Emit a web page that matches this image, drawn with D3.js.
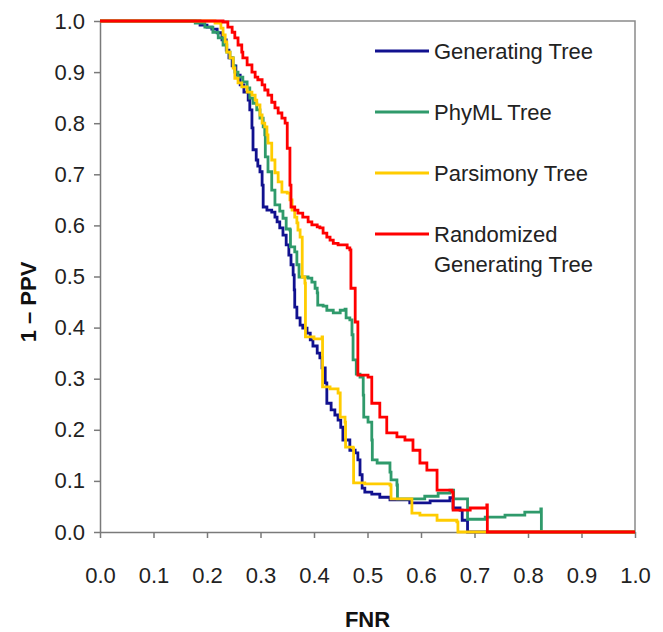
<!DOCTYPE html>
<html>
<head>
<meta charset="utf-8">
<script src="https://cdn.jsdelivr.net/npm/d3@7"></script>
<style>
  body { margin: 0; background: #fff; }
  svg { display: block; font-family: Arial, "Liberation Sans", sans-serif; }
</style>
</head>
<body>
<script>
// Curves: [FNR, 1 - PPV], drawn as steps
const generatingTree = [
  [0, 1], [0.168, 1], [0.187, 0.992], [0.2, 0.988], [0.209, 0.984], [0.219, 0.977],
  [0.228, 0.963], [0.236, 0.943], [0.241, 0.928], [0.247, 0.912], [0.254, 0.894],
  [0.262, 0.875], [0.269, 0.861], [0.277, 0.845], [0.28, 0.826], [0.284, 0.791],
  [0.286, 0.748], [0.292, 0.728], [0.295, 0.716], [0.299, 0.705], [0.303, 0.679],
  [0.305, 0.636], [0.312, 0.63], [0.321, 0.626], [0.327, 0.616], [0.331, 0.607],
  [0.336, 0.595], [0.342, 0.581], [0.348, 0.562], [0.353, 0.542], [0.357, 0.523],
  [0.361, 0.503], [0.363, 0.474], [0.364, 0.44], [0.368, 0.419], [0.374, 0.405],
  [0.379, 0.399], [0.387, 0.389], [0.393, 0.376], [0.398, 0.364], [0.406, 0.35],
  [0.411, 0.341], [0.415, 0.321], [0.421, 0.292], [0.424, 0.252], [0.432, 0.239],
  [0.439, 0.229], [0.445, 0.219], [0.45, 0.205], [0.454, 0.18], [0.467, 0.16],
  [0.477, 0.155], [0.482, 0.141], [0.486, 0.112], [0.49, 0.086], [0.495, 0.078],
  [0.508, 0.074], [0.523, 0.068], [0.542, 0.063], [0.579, 0.057], [0.617, 0.061],
  [0.654, 0.067], [0.66, 0.047], [0.673, 0.043], [0.677, 0.023], [0.686, 0.023],
  [0.687, 0], [1, 0]
];
const phymlTree = [
  [0, 1], [0.159, 1], [0.178, 0.996], [0.196, 0.988], [0.211, 0.978], [0.221, 0.967],
  [0.23, 0.953], [0.237, 0.939], [0.243, 0.928], [0.249, 0.912], [0.252, 0.9],
  [0.258, 0.89], [0.267, 0.881], [0.275, 0.869], [0.28, 0.849], [0.286, 0.839],
  [0.293, 0.826], [0.299, 0.81], [0.305, 0.793], [0.308, 0.777], [0.309, 0.734],
  [0.314, 0.705], [0.321, 0.669], [0.327, 0.64], [0.336, 0.628], [0.342, 0.614],
  [0.348, 0.593], [0.355, 0.591], [0.356, 0.558], [0.364, 0.548], [0.368, 0.523],
  [0.372, 0.499], [0.389, 0.497], [0.396, 0.489], [0.402, 0.477], [0.406, 0.468],
  [0.407, 0.444], [0.417, 0.442], [0.424, 0.434], [0.436, 0.429], [0.449, 0.434],
  [0.458, 0.436], [0.46, 0.419], [0.467, 0.415], [0.471, 0.386], [0.473, 0.337],
  [0.479, 0.309], [0.486, 0.303], [0.492, 0.268], [0.493, 0.225], [0.501, 0.215],
  [0.508, 0.18], [0.509, 0.141], [0.518, 0.135], [0.542, 0.117], [0.544, 0.102],
  [0.555, 0.092], [0.556, 0.065], [0.585, 0.065], [0.607, 0.07], [0.632, 0.076],
  [0.654, 0.082], [0.66, 0.082], [0.661, 0.065], [0.686, 0.065], [0.687, 0.025],
  [0.72, 0.029], [0.757, 0.033], [0.794, 0.039], [0.824, 0.045], [0.825, 0], [1, 0]
];
const parsimonyTree = [
  [0, 1], [0.196, 1], [0.215, 0.996], [0.226, 0.986], [0.23, 0.973], [0.234, 0.959],
  [0.237, 0.939], [0.243, 0.928], [0.249, 0.908], [0.252, 0.888], [0.258, 0.879],
  [0.265, 0.871], [0.275, 0.861], [0.284, 0.855], [0.29, 0.845], [0.293, 0.836],
  [0.299, 0.816], [0.303, 0.8], [0.308, 0.793], [0.312, 0.777], [0.314, 0.761],
  [0.321, 0.728], [0.327, 0.703], [0.333, 0.685], [0.34, 0.665], [0.35, 0.663],
  [0.355, 0.65], [0.359, 0.63], [0.364, 0.616], [0.368, 0.605], [0.37, 0.591],
  [0.374, 0.577], [0.378, 0.499], [0.383, 0.487], [0.384, 0.382], [0.4, 0.378],
  [0.415, 0.382], [0.416, 0.284], [0.43, 0.28], [0.445, 0.272], [0.449, 0.225],
  [0.458, 0.215], [0.459, 0.166], [0.473, 0.164], [0.474, 0.096], [0.495, 0.094],
  [0.542, 0.092], [0.544, 0.065], [0.581, 0.065], [0.583, 0.037], [0.598, 0.033],
  [0.63, 0.023], [0.667, 0.02], [0.669, 0], [1, 0]
];
const randomizedTree = [
  [0, 1], [0.221, 1], [0.23, 0.998], [0.239, 0.988], [0.247, 0.978], [0.252, 0.967],
  [0.258, 0.953], [0.265, 0.939], [0.267, 0.928], [0.275, 0.914], [0.284, 0.9],
  [0.29, 0.89], [0.295, 0.885], [0.303, 0.875], [0.308, 0.865], [0.314, 0.855],
  [0.321, 0.841], [0.327, 0.83], [0.333, 0.82], [0.34, 0.81], [0.346, 0.8],
  [0.35, 0.751], [0.355, 0.679], [0.357, 0.636], [0.364, 0.63], [0.37, 0.624],
  [0.379, 0.616], [0.389, 0.607], [0.396, 0.601], [0.406, 0.597], [0.411, 0.595],
  [0.417, 0.585], [0.424, 0.577], [0.43, 0.571], [0.436, 0.565], [0.445, 0.562],
  [0.454, 0.562], [0.462, 0.556], [0.467, 0.552], [0.469, 0.477], [0.477, 0.411],
  [0.482, 0.307], [0.501, 0.303], [0.508, 0.252], [0.523, 0.225], [0.536, 0.194],
  [0.555, 0.186], [0.57, 0.18], [0.585, 0.16], [0.598, 0.135], [0.611, 0.121],
  [0.63, 0.082], [0.658, 0.078], [0.66, 0.043], [0.692, 0.047], [0.723, 0.053],
  [0.724, 0], [1, 0]
];

const seriesNames = ["Generating Tree", "PhyML Tree", "Parsimony Tree", "Randomized\nGenerating Tree"];
const seriesColors = ["#11118f", "#2f9a6b", "#ffcc00", "#ff0000"];
const seriesData = [generatingTree, phymlTree, parsimonyTree, randomizedTree];
const tickValues = [0, 0.1, 0.2, 0.3, 0.4, 0.5, 0.6, 0.7, 0.8, 0.9, 1.0];

const W = 663, H = 632;
const svg = d3.select("body").append("svg")
  .attr("width", W)
  .attr("height", H);

const x = d3.scaleLinear().domain([0, 1]).range([100, 635]);
const y = d3.scaleLinear().domain([0, 1]).range([532, 21]);

// frame (top and right)
svg.append("path")
  .attr("d", `M${x(0)},${y(1)}H${x(1)}V${y(0)}`)
  .attr("fill", "none")
  .attr("stroke", "#8a8a8a")
  .attr("stroke-width", 1.5);

// axes
const xAxis = svg.append("g")
  .attr("transform", "translate(0," + y(0) + ")")
  .call(d3.axisBottom(x).tickValues(tickValues).tickFormat(d3.format(".1f")).tickSize(6).tickPadding(29).tickSizeOuter(0));
const yAxis = svg.append("g")
  .attr("transform", "translate(" + x(0) + ",0)")
  .call(d3.axisLeft(y).tickValues(tickValues).tickFormat(d3.format(".1f")).tickSize(6).tickPadding(9).tickSizeOuter(0));

[xAxis, yAxis].forEach(g => {
  g.select(".domain").attr("stroke", "#7a7a7a").attr("stroke-width", 1.5);
  g.selectAll(".tick line").attr("stroke", "#7a7a7a").attr("stroke-width", 1.5);
  g.selectAll(".tick text")
    .attr("fill", "#222")
    .style("font-size", "22px")
    .style("font-family", "Arial, 'Liberation Sans', sans-serif");
});

// curves
const line = d3.line()
  .x(d => x(d[0]))
  .y(d => y(d[1]))
  .curve(d3.curveStepAfter);

seriesData.forEach((data, i) => {
  svg.append("path")
    .datum(data)
    .attr("d", line)
    .attr("fill", "none")
    .attr("stroke", seriesColors[i])
    .attr("stroke-width", 2.8)
    .attr("stroke-linejoin", "miter");
});

// axis titles
svg.append("text")
  .attr("x", (x(0) + x(1)) / 2)
  .attr("y", 627)
  .attr("text-anchor", "middle")
  .style("font-size", "22px")
  .style("font-weight", "bold")
  .attr("fill", "#111")
  .text("FNR");

svg.append("text")
  .attr("transform", "translate(36,302) rotate(-90)")
  .attr("text-anchor", "middle")
  .style("font-size", "22px")
  .style("font-weight", "bold")
  .attr("fill", "#111")
  .text("1 \u2013 PPV");

// legend
const legendY = [51, 112, 173, 234];
const legend = svg.append("g");
seriesNames.forEach((name, i) => {
  legend.append("line")
    .attr("x1", 375).attr("x2", 429)
    .attr("y1", legendY[i]).attr("y2", legendY[i])
    .attr("stroke", seriesColors[i])
    .attr("stroke-width", 2.8);
  const t = legend.append("text")
    .attr("x", 434)
    .attr("y", legendY[i] + 8)
    .style("font-size", "22px")
    .attr("fill", "#222");
  name.split("\n").forEach((part, j) => {
    t.append("tspan").attr("x", 434).attr("dy", j === 0 ? 0 : 30).text(part);
  });
});
</script>
</body>
</html>
